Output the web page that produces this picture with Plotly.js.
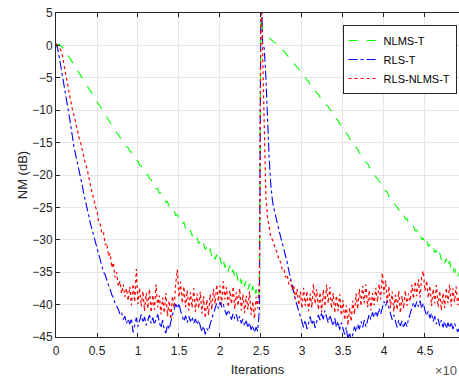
<!DOCTYPE html>
<html>
<head>
<meta charset="utf-8">
<script src="https://cdn.plot.ly/plotly-3.0.1.min.js"></script>
<style>html,body{margin:0;padding:0;background:#fff;}#chart{width:459px;height:377px;}</style>
</head>
<body>
<div id="chart"></div>
<script>
// sampling step of the recorded curves (iterations)
const iterStep = 200;

// NLMS-T (dB), one value every 200 iterations, 0 .. 49200
const nlmsT = [
0.0, 0.1, 0.2, 0.0, -0.3, -0.6, -1.0, -1.4, -1.8, -2.2,
-2.6, -3.1, -3.5, -3.9, -4.4, -4.8, -5.2, -5.6, -6.0, -6.4,
-6.7, -7.1, -7.5, -7.9, -8.3, -8.7, -9.1, -9.5, -9.9, -10.3,
-10.8, -11.2, -11.6, -12.0, -12.3, -12.8, -13.0, -13.5, -13.7, -14.2,
-14.4, -14.9, -15.1, -15.6, -15.8, -16.3, -16.5, -17.0, -17.2, -17.7,
-17.9, -18.5, -18.6, -19.2, -19.3, -19.9, -20.0, -20.6, -20.7, -21.3,
-21.4, -22.1, -22.1, -22.8, -22.8, -23.5, -23.5, -24.2, -24.1, -24.9,
-24.8, -25.5, -25.5, -26.2, -26.1, -26.9, -26.8, -27.5, -27.3, -28.2,
-27.9, -28.8, -28.5, -29.4, -29.0, -29.9, -29.7, -30.6, -30.3, -31.1,
-30.6, -31.5, -31.1, -32.0, -31.4, -32.5, -31.9, -33.0, -32.3, -33.4,
-32.7, -33.9, -33.0, -34.3, -33.6, -34.9, -34.0, -35.3, -34.6, -35.8,
-34.9, -36.3, -35.4, -36.8, -35.8, -37.2, -36.3, -37.7, -36.8, -38.2,
-37.1, -38.7, -37.6, -39.3, -38.0, 10, 2.0, 1.8, 1.6, 1.4,
1.1, 0.9, 0.7, 0.5, 0.3, 0.1, -0.2, -0.4, -0.6, -0.9,
-1.2, -1.5, -1.8, -2.1, -2.4, -2.7, -3.0, -3.4, -3.7, -4.0,
-4.3, -4.8, -4.9, -5.4, -5.5, -6.1, -6.2, -6.7, -6.8, -7.4,
-7.5, -8.0, -8.1, -8.6, -8.8, -9.3, -9.4, -9.9, -10.1, -10.7,
-10.8, -11.4, -11.6, -12.1, -12.3, -12.9, -13.0, -13.6, -13.8, -14.4,
-14.5, -15.1, -15.3, -15.8, -16.0, -16.6, -16.8, -17.3, -17.5, -18.1,
-18.2, -18.8, -19.0, -19.5, -19.7, -20.3, -20.5, -21.0, -21.2, -21.8,
-21.9, -22.5, -22.6, -23.3, -23.3, -24.0, -24.2, -24.7, -24.9, -25.4,
-25.4, -26.1, -26.0, -26.8, -26.7, -27.4, -27.3, -28.0, -27.9, -28.6,
-28.5, -29.4, -29.1, -30.0, -29.7, -30.5, -29.9, -31.0, -30.7, -31.5,
-31.1, -32.0, -31.6, -32.6, -32.0, -33.1, -32.5, -33.6, -32.9, -34.2,
-33.3, -34.6, -34.0, -35.1, -34.3, -35.6, -35.0
];

// RLS-T (dB)
const rlsT = [
0.3, -0.5, -1.8, -3.2, -4.6, -6.0, -7.6, -9.2, -10.8, -12.4,
-14.2, -15.7, -16.9, -18.0, -19.2, -20.3, -21.6, -23.0, -24.3, -25.4,
-26.3, -27.5, -28.4, -29.4, -30.3, -31.3, -32.0, -33.3, -34.0, -35.0,
-35.4, -36.3, -37.0, -37.6, -38.5, -38.9, -39.8, -40.2, -40.7, -41.5,
-41.2, -42.3, -41.8, -42.9, -42.2, -43.0, -42.1, -44.3, -43.2, -42.0,
-43.4, -42.6, -41.5, -42.8, -41.9, -43.2, -42.3, -41.6, -42.9, -42.0,
-43.1, -42.2, -41.5, -42.7, -43.6, -42.4, -43.9, -44.4, -43.1, -43.8,
-42.5, -41.6, -40.8, -39.9, -40.6, -39.8, -41.0, -41.9, -42.6, -41.7,
-42.8, -41.8, -42.6, -41.9, -42.9, -42.2, -43.1, -42.4, -43.4, -44.2,
-43.3, -44.6, -43.7, -44.1, -43.0, -42.2, -41.4, -40.5, -39.8, -40.6,
-39.6, -40.4, -39.9, -40.9, -41.6, -40.8, -41.7, -42.3, -41.4, -42.2,
-41.5, -42.6, -41.8, -42.9, -42.2, -43.3, -42.5, -43.6, -42.8, -43.9,
-43.2, -44.3, -43.5, -44.1, -40.8, 10, 0.4, -0.5, -5.0, -12.0,
-17.5, -21.5, -24.0, -25.3, -26.5, -27.6, -28.6, -29.6, -30.5, -31.4,
-32.3, -33.5, -34.8, -36.0, -37.0, -38.0, -39.2, -40.1, -41.0, -41.9,
-42.6, -43.5, -42.4, -43.8, -42.9, -41.8, -43.1, -42.3, -43.6, -42.5,
-41.6, -42.4, -41.2, -42.3, -40.9, -41.9, -42.8, -41.6, -42.4, -43.3,
-42.1, -43.5, -42.6, -43.9, -42.8, -43.7, -44.6, -43.5, -45.4, -44.3,
-45.6, -44.5, -43.4, -44.2, -43.0, -43.8, -42.6, -43.5, -42.4, -43.4,
-42.2, -41.5, -42.3, -41.2, -42.0, -41.0, -41.8, -40.6, -41.5, -40.4,
-39.5, -40.2, -39.3, -40.5, -41.4, -42.3, -41.6, -42.8, -43.5, -42.4,
-43.3, -42.5, -43.6, -42.7, -43.4, -42.2, -41.4, -40.5, -39.7, -40.4,
-39.5, -40.3, -39.4, -40.6, -39.8, -40.9, -41.7, -41.0, -42.1, -41.3,
-42.6, -41.8, -43.0, -42.2, -43.3, -42.4, -43.5, -42.6, -43.7, -42.8,
-43.6, -42.7, -43.8, -42.9, -43.5, -44.2, -43.6
];

// RLS-NLMS-T (dB)
const rlsNlmsT = [
0.2, 0.0, -0.3, -0.8, -1.7, -3.2, -4.6, -6.0, -7.3, -8.6,
-9.9, -10.8, -12.0, -12.9, -14.2, -15.0, -16.2, -17.0, -18.3, -19.1,
-20.5, -21.4, -22.8, -23.6, -24.9, -25.5, -27.2, -27.6, -29.1, -28.9,
-30.8, -30.5, -32.6, -32.1, -34.3, -33.5, -35.8, -35.0, -37.2, -36.4,
-38.3, -36.9, -38.8, -37.5, -39.4, -37.2, -40.1, -36.8, -39.6, -34.5,
-39.9, -37.4, -40.3, -37.9, -41.0, -38.2, -40.6, -37.6, -41.2, -38.5,
-40.8, -36.9, -40.4, -38.6, -41.5, -38.9, -41.3, -38.2, -41.8, -39.4,
-42.3, -38.7, -40.5, -36.8, -34.6, -38.9, -36.5, -39.8, -37.2, -40.4,
-37.8, -40.9, -38.1, -40.5, -37.5, -41.1, -38.3, -40.6, -38.0, -41.4,
-38.7, -42.1, -39.2, -41.6, -38.4, -40.8, -37.6, -39.9, -36.9, -39.5,
-37.1, -40.0, -36.4, -39.2, -37.3, -40.4, -37.8, -39.9, -37.2, -40.7,
-38.1, -40.2, -37.5, -40.9, -38.4, -41.3, -38.6, -40.8, -38.0, -41.6,
-39.5, -42.2, -38.8, -40.6, -36.5, 10, -3.0, -14.0, -23.5, -26.5,
-28.3, -29.6, -30.0, -30.9, -31.5, -32.0, -33.2, -33.4, -34.6, -34.5,
-35.8, -35.4, -36.9, -36.2, -37.8, -37.0, -39.2, -37.6, -40.1, -38.0,
-40.6, -37.4, -40.2, -37.9, -41.0, -38.3, -40.5, -36.8, -39.9, -37.6,
-40.8, -38.1, -41.2, -37.7, -40.3, -36.9, -39.8, -37.3, -40.6, -38.2,
-41.3, -38.6, -41.0, -38.4, -41.7, -39.3, -42.4, -40.1, -43.2, -40.5,
-42.6, -39.4, -41.5, -38.3, -40.7, -37.6, -40.2, -37.1, -39.8, -36.9,
-40.4, -37.8, -40.9, -38.2, -40.1, -37.4, -39.6, -36.8, -39.2, -35.1,
-38.4, -36.3, -39.7, -37.2, -40.5, -38.0, -41.1, -38.5, -40.8, -37.9,
-41.3, -38.7, -40.6, -37.8, -40.2, -38.3, -39.5, -36.9, -39.1, -36.4,
-38.7, -36.1, -38.9, -35.6, -34.8, -37.9, -36.3, -39.0, -37.1, -40.2,
-37.6, -39.8, -37.0, -40.4, -37.9, -40.9, -38.2, -40.5, -37.4, -39.8,
-36.9, -40.3, -37.5, -39.6, -37.2, -40.1, -38.4
];

const seriesNames = ['NLMS-T', 'RLS-T', 'RLS-NLMS-T'];
const xTickVals = [0, 5000, 10000, 15000, 20000, 25000, 30000, 35000, 40000, 45000];
const xTickText = ['0', '0.5', '1', '1.5', '2', '2.5', '3', '3.5', '4', '4.5'];
const yTickVals = [5, 0, -5, -10, -15, -20, -25, -30, -35, -40, -45];

const iterations = nlmsT.map((_, i) => i * iterStep);

const styles = [
  {color: '#00ff00', dash: 'dash', width: 1.1},
  {color: '#0000ff', dash: 'dashdot', width: 1.1},
  {color: '#ff0000', dash: 'dot', width: 1.2}
];
const data = [nlmsT, rlsT, rlsNlmsT].map((ys, k) => ({
  type: 'scatter', mode: 'lines', x: iterations, y: ys, name: seriesNames[k],
  line: {color: styles[k].color, dash: styles[k].dash, width: styles[k].width}
}));

const fam = 'Liberation Sans, Arial, sans-serif';
const axisFont = {family: fam, size: 12, color: '#262626'};
const layout = {
  width: 459, height: 377,
  margin: {l: 56, r: 0, t: 13, b: 40},
  paper_bgcolor: '#fff', plot_bgcolor: '#fff',
  showlegend: true,
  legend: {x: 0.994, xanchor: 'right', y: 0.963, yanchor: 'top', bgcolor: '#fff',
           bordercolor: '#262626', borderwidth: 1,
           font: {family: fam, size: 11, color: '#000'}},
  xaxis: {range: [0, 49150], tickmode: 'array', tickvals: xTickVals, ticktext: xTickText,
          ticks: 'inside', ticklen: 4, tickcolor: '#262626', showline: true, linecolor: '#262626',
          mirror: 'ticks', showgrid: true, gridcolor: '#e6e6e6', zeroline: false, tickfont: axisFont,
          ticklabelstandoff: 3,
          title: {text: 'Iterations', font: {family: fam, size: 13, color: '#262626'}, standoff: 7}},
  yaxis: {range: [-45, 5], tickmode: 'array', tickvals: yTickVals,
          ticks: 'inside', ticklen: 4, tickcolor: '#262626', showline: true, linecolor: '#262626',
          mirror: false, showgrid: true, gridcolor: '#e6e6e6', zeroline: false, tickfont: axisFont,
          title: {text: 'NM (dB)', font: {family: fam, size: 13, color: '#262626'}, standoff: 1}},
  annotations: [{xref: 'paper', yref: 'paper', x: 1, y: -0.104, xanchor: 'right', yanchor: 'middle',
                 text: '×10', showarrow: false,
                 font: {family: fam, size: 13, color: '#555'}}]
};
Plotly.newPlot('chart', data, layout, {displayModeBar: false, staticPlot: true});
</script>
</body>
</html>
